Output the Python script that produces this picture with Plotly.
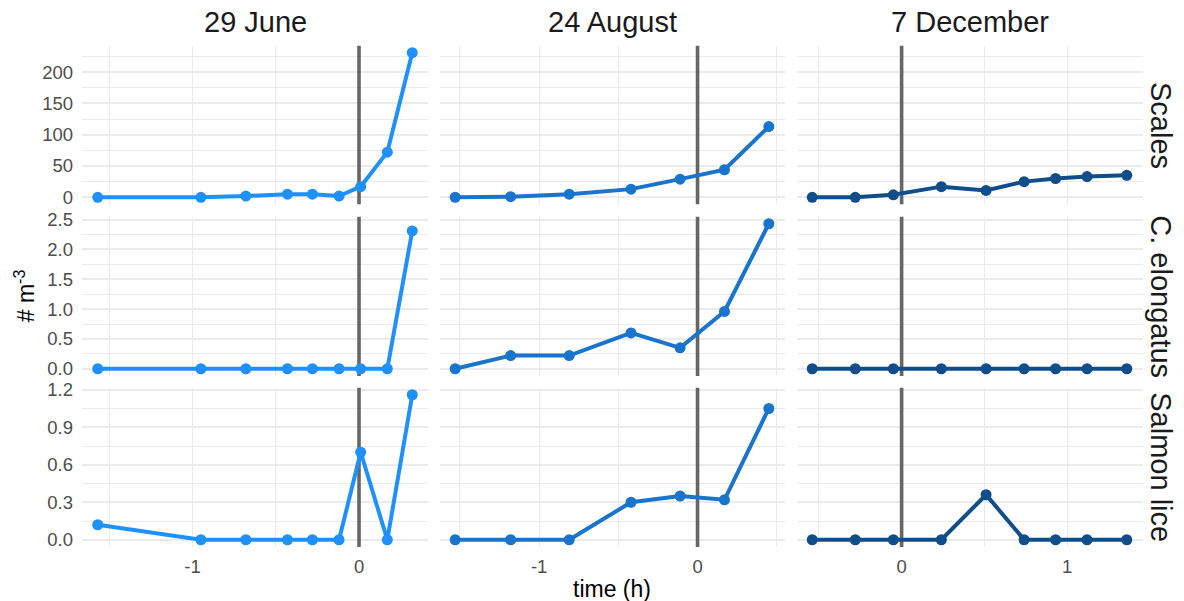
import plotly.graph_objects as go

# Sampling dates (facet columns) and variables (facet rows)
dates = ["29 June", "24 August", "7 December"]
variables = ["Scales", "C. elongatus", "Salmon lice"]
date_colors = ["#1E90FF", "#1874CD", "#104E8B"]

# Time relative to the event (h), one list per date
time_june = [-1.57, -0.95, -0.68, -0.43, -0.28, -0.12, 0.01, 0.17, 0.32]
time_aug = [-1.53, -1.18, -0.81, -0.42, -0.11, 0.17, 0.45]
time_dec = [-0.54, -0.28, -0.05, 0.24, 0.51, 0.74, 0.93, 1.12, 1.36]

# Concentrations (# m^-3)
scales_june = [0, 0, 2, 5, 5, 2, 17, 72, 231]
scales_aug = [0, 1, 5, 13, 29, 44, 113]
scales_dec = [0, 0, 4, 17, 11, 25, 30, 33, 35]

elong_june = [0, 0, 0, 0, 0, 0, 0, 0, 2.31]
elong_aug = [0, 0.22, 0.22, 0.60, 0.35, 0.96, 2.43]
elong_dec = [0, 0, 0, 0, 0, 0, 0, 0, 0]

lice_june = [0.12, 0, 0, 0, 0, 0, 0.70, 0, 1.16]
lice_aug = [0, 0, 0, 0.30, 0.35, 0.32, 1.05]
lice_dec = [0, 0, 0, 0, 0.36, 0, 0, 0, 0]

# Reference time marked by the vertical line (h)
event_time = 0

# Axis breaks per column / row
x_tickvals = [[-1, 0], [-1, 0], [0, 1]]
x_ticktext = [["-1", "0"], ["-1", "0"], ["0", "1"]]
y_dtick = [50, 0.5, 0.3]
y_format = ["d", ".1f", ".1f"]

times = [time_june, time_aug, time_dec]
values = [
    [scales_june, scales_aug, scales_dec],
    [elong_june, elong_aug, elong_dec],
    [lice_june, lice_aug, lice_dec],
]

W, H = 1184, 601
col_px = [(82, 428), (439.5, 784.5), (796.5, 1142.5)]
row_px = [(45.5, 204.5), (216.5, 376), (387.5, 547)]


def expand(lo, hi, f=0.05):
    d = (hi - lo) * f
    return [lo - d, hi + d]


x_ranges = [expand(min(t), max(t)) for t in times]
y_ranges = []
for r in range(3):
    allv = [v for c in range(3) for v in values[r][c]]
    y_ranges.append(expand(min(allv), max(allv)))

FONT = "Liberation Sans, Arial, sans-serif"
GRID = "#EBEBEB"

fig = go.Figure()
layout = dict(
    width=W, height=H,
    margin=dict(l=0, r=0, t=0, b=0, autoexpand=False),
    paper_bgcolor="white", plot_bgcolor="white",
    showlegend=False,
    font=dict(family=FONT, color="#4D4D4D"),
)
annotations = []

for r in range(3):
    for c in range(3):
        i = r * 3 + c + 1
        xs = "" if i == 1 else str(i)
        # vertical reference line at the event time, under the data
        fig.add_trace(go.Scatter(
            x=[event_time, event_time], y=y_ranges[r],
            mode="lines", line=dict(color="#666666", width=3.6),
            xaxis="x" + xs, yaxis="y" + xs,
            hoverinfo="skip", cliponaxis=False,
        ))
        fig.add_trace(go.Scatter(
            x=times[c], y=values[r][c],
            mode="lines+markers",
            line=dict(color=date_colors[c], width=4),
            marker=dict(color=date_colors[c], size=11),
            xaxis="x" + xs, yaxis="y" + xs,
            hoverinfo="x+y",
        ))
        x0, x1 = col_px[c]
        y0, y1 = row_px[r]
        layout["xaxis" + xs] = dict(
            domain=[x0 / W, x1 / W],
            anchor="y" + xs,
            range=x_ranges[c],
            tickvals=x_tickvals[c], ticktext=x_ticktext[c],
            showticklabels=(r == 2),
            tickfont=dict(size=18.5, color="#4D4D4D"),
            ticks="", ticklabelstandoff=6,
            showgrid=True, gridcolor=GRID, gridwidth=1.4,
            minor=dict(tick0=-0.5, dtick=1, showgrid=True, gridcolor=GRID, gridwidth=0.8),
            zeroline=False, showline=False,
        )
        layout["yaxis" + xs] = dict(
            domain=[1 - y1 / H, 1 - y0 / H],
            anchor="x" + xs,
            range=y_ranges[r],
            tick0=0, dtick=y_dtick[r], tickformat=y_format[r],
            showticklabels=(c == 0),
            tickfont=dict(size=18.5, color="#4D4D4D"),
            ticks="", ticklabelstandoff=8,
            showgrid=True, gridcolor=GRID, gridwidth=1.6,
            minor=dict(tick0=y_dtick[r] / 2, dtick=y_dtick[r], showgrid=True, gridcolor=GRID, gridwidth=0.9),
            zeroline=False, showline=False,
        )

# column strip labels
for c, name in enumerate(dates):
    x0, x1 = col_px[c]
    annotations.append(dict(
        text=name, x=(x0 + x1) / 2 / W, y=1 - 22 / H,
        xref="paper", yref="paper", showarrow=False,
        xanchor="center", yanchor="middle",
        font=dict(size=29, color="#1A1A1A", family=FONT),
    ))

# row strip labels
for r, name in enumerate(variables):
    y0, y1 = row_px[r]
    annotations.append(dict(
        text=name, x=1161 / W, y=1 - (y0 + y1) / 2 / H,
        xref="paper", yref="paper", showarrow=False,
        xanchor="center", yanchor="middle", textangle=90,
        font=dict(size=29, color="#1A1A1A", family=FONT),
    ))

# axis titles
annotations.append(dict(
    text="time (h)", x=(col_px[0][0] + col_px[2][1]) / 2 / W, y=1 - 589 / H,
    xref="paper", yref="paper", showarrow=False,
    xanchor="center", yanchor="middle",
    font=dict(size=23, color="black", family=FONT),
))
annotations.append(dict(
    text="# m<sup>-3</sup>", x=25 / W, y=1 - (row_px[0][0] + row_px[2][1]) / 2 / H,
    xref="paper", yref="paper", showarrow=False,
    xanchor="center", yanchor="middle", textangle=-90,
    font=dict(size=23, color="black", family=FONT),
))

layout["annotations"] = annotations
fig.update_layout(**layout)

fig.write_html("out.html")
